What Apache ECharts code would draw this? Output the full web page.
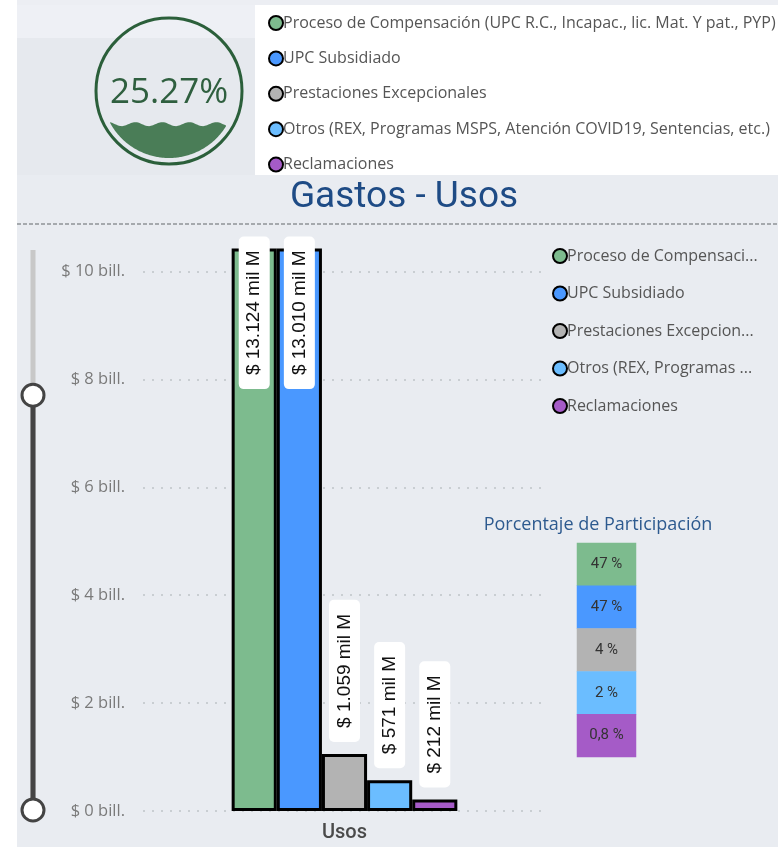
<!DOCTYPE html>
<html>
<head>
<meta charset="utf-8">
<script src="https://cdn.jsdelivr.net/npm/echarts@6/dist/echarts.min.js"></script>
<style>
    html, body { margin: 0; padding: 0; background: #fff; }
    #chart { width: 778px; height: 847px; }
</style>
</head>
<body>
<div id="chart"></div>
<script>
// datos
var categories = ['Usos'];
var seriesNames = [
    'Proceso de Compensación (UPC R.C., Incapac., lic. Mat. Y pat., PYP)',
    'UPC Subsidiado',
    'Prestaciones Excepcionales',
    'Otros (REX, Programas MSPS, Atención COVID19, Sentencias, etc.)',
    'Reclamaciones'
];
var usosValues = [13.124, 13.010, 1.059, 0.571, 0.212]; // billones
var participacion = [47, 47, 4, 2, 0.8];
var yTickValues = [0, 2, 4, 6, 8, 10];
var kpiValue = 25.27;

var colors = ['#7dbb8e', '#4a98ff', '#b3b3b3', '#6bbdff', '#a55bc7'];
var axisMax = 14;
var viewMax = 10.4;

function fmtMilM(v) {
    var n = Math.round(v * 1000).toString();
    return '$ ' + n.replace(/\B(?=(\d{3})+(?!\d))/g, '.') + ' mil M';
}

// figura del indicador (liquid fill)
function buildWave(cx, cy, r, pct) {
    var level = cy + r - 2 * r * pct / 100;
    var top = [], bottom = [];
    for (var x = cx - r; x <= cx + r; x += 1) {
        var yt = level + 2 * Math.sin(2 * Math.PI * (x - cx) / 27);
        var yb = cy + Math.sqrt(Math.max(0, r * r - (x - cx) * (x - cx)));
        if (yt < yb) {
            top.push([x, yt]);
            bottom.unshift([x, yb]);
        }
    }
    return top.concat(bottom);
}

var chart = echarts.init(document.getElementById('chart'));

var barSeries = seriesNames.map(function (name, i) {
    var inside = usosValues[i] > viewMax * 0.5;
    return {
        name: name,
        type: 'bar',
        data: [usosValues[i]],
        barGap: '0%',
        barCategoryGap: '44%',
        itemStyle: {
            color: colors[i],
            borderColor: '#000',
            borderWidth: 3
        },
        label: {
            show: true,
            rotate: 90,
            position: inside ? 'insideTop' : 'top',
            distance: inside ? -12 : 12,
            align: inside ? 'right' : 'left',
            verticalAlign: 'middle',
            formatter: function (p) { return fmtMilM(p.value); },
            color: '#111',
            fontSize: 19,
            fontFamily: 'Liberation Sans',
            backgroundColor: '#fff',
            borderRadius: 5,
            padding: [6, 14, 6, 14]
        }
    };
});

var heatData = participacion.map(function (v, i) {
    return {
        value: [0, i, v],
        itemStyle: { color: colors[i] }
    };
});

chart.setOption({
    animation: false,
    backgroundColor: '#fff',
    textStyle: { fontFamily: 'Open Sans' },
    title: [
        {
            text: 'Gastos - Usos',
            left: 399,
            top: 174,
            textAlign: 'center',
            textStyle: { fontSize: 37, fontWeight: 'normal', fontFamily: 'Roboto', color: '#1e4b85' }
        },
        {
            text: 'Porcentaje de Participación',
            left: 593,
            top: 511,
            textAlign: 'center',
            textStyle: { fontSize: 18, fontWeight: 'normal', fontFamily: 'Open Sans', color: '#2d5a8f' }
        }
    ],
    legend: [
        {
            data: seriesNames,
            orient: 'vertical',
            left: 263,
            top: 10,
            itemWidth: 14,
            itemHeight: 14,
            itemGap: 19.4,
            icon: 'circle',
            itemStyle: { borderColor: '#000', borderWidth: 2 },
            textStyle: { color: '#555', fontSize: 16, lineHeight: 16, fontFamily: 'Open Sans', padding: [0, 0, 0, -5] }
        },
        {
            data: seriesNames,
            orient: 'vertical',
            left: 547,
            top: 243,
            itemWidth: 14,
            itemHeight: 14,
            itemGap: 21.5,
            icon: 'circle',
            itemStyle: { borderColor: '#000', borderWidth: 2 },
            textStyle: {
                color: '#555', fontSize: 16, lineHeight: 16, fontFamily: 'Open Sans',
                width: 196, overflow: 'truncate', ellipsis: '...', padding: [0, 0, 0, -5]
            }
        }
    ],
    grid: [
        { left: 143, right: 232, top: 250, bottom: 36 },
        { left: 577, top: 543, width: 59, height: 214 }
    ],
    xAxis: [
        {
            type: 'category',
            gridIndex: 0,
            data: categories,
            axisLine: { show: false },
            axisTick: { show: false },
            axisLabel: { margin: 12, fontSize: 20, fontWeight: 500, fontFamily: 'Roboto', color: '#4a4a4a' }
        },
        {
            type: 'category',
            gridIndex: 1,
            data: [''],
            show: false
        }
    ],
    yAxis: [
        {
            type: 'value',
            gridIndex: 0,
            min: 0,
            max: axisMax,
            interval: 2,
            axisLine: { show: false },
            axisTick: { show: false },
            axisLabel: {
                margin: 18,
                fontSize: 16.5,
                color: '#7a7a7a',
                fontFamily: 'Open Sans',
                formatter: function (v) {
                    return yTickValues.indexOf(v) >= 0 ? '$ ' + v + ' bill.' : '';
                }
            },
            splitLine: {
                show: true,
                showMaxLine: false,
                lineStyle: { type: [2, 7], color: '#bfc3c8', width: 1.5 }
            }
        },
        {
            type: 'category',
            gridIndex: 1,
            data: seriesNames,
            inverse: true,
            show: false
        }
    ],
    dataZoom: [
        {
            type: 'slider',
            yAxisIndex: 0,
            orient: 'vertical',
            filterMode: 'none',
            startValue: 0,
            endValue: viewMax,
            left: 29,
            top: 250,
            bottom: 36,
            width: 5,
            showDetail: false,
            showDataShadow: false,
            brushSelect: false,
            moveHandleSize: 0,
            backgroundColor: '#c8c8c8',
            borderColor: 'transparent',
            borderRadius: 0,
            fillerColor: '#444',
            handleIcon: 'circle',
            handleSize: 22,
            handleStyle: { color: '#fff', borderColor: '#444', borderWidth: 3 },
            emphasis: { handleStyle: { color: '#fff', borderColor: '#444', borderWidth: 3 } },
            dataBackground: { lineStyle: { opacity: 0 }, areaStyle: { opacity: 0 } }
        }
    ],
    series: barSeries.concat([
        {
            name: 'Porcentaje de Participación',
            type: 'heatmap',
            xAxisIndex: 1,
            yAxisIndex: 1,
            data: heatData,
            label: {
                show: true,
                color: '#333',
                fontSize: 15,
                fontFamily: 'Roboto',
                formatter: function (p) { return String(p.value[2]).replace('.', ',') + ' %'; }
            }
        }
    ]),
    graphic: [
        { type: 'rect', z: -10, shape: { x: 17, y: 0, width: 761, height: 5 }, style: { fill: '#eceef3' } },
        { type: 'rect', z: -10, shape: { x: 17, y: 5, width: 238, height: 170 }, style: { fill: '#e6e9ee' } },
        { type: 'rect', z: -10, shape: { x: 17, y: 5, width: 238, height: 33 }, style: { fill: '#eef0f5' } },
        { type: 'rect', z: -10, shape: { x: 255, y: 5, width: 523, height: 170 }, style: { fill: '#ffffff' } },
        { type: 'rect', z: -10, shape: { x: 17, y: 175, width: 761, height: 672 }, style: { fill: '#e9ecf1' } },
        {
            type: 'line', z: -5,
            shape: { x1: 17, y1: 224, x2: 778, y2: 224 },
            style: { stroke: '#8f9297', lineWidth: 1.5, lineDash: [4, 2] }
        },
        {
            type: 'polygon', z: 1,
            shape: { points: buildWave(169, 91, 67, kpiValue) },
            style: { fill: '#4a7d57' }
        },
        {
            type: 'circle', z: 1,
            shape: { cx: 169, cy: 91, r: 73 },
            style: { fill: 'none', stroke: '#2b5f3a', lineWidth: 3 }
        },
        {
            type: 'text', z: 2,
            x: 169, y: 93,
            style: {
                text: kpiValue.toFixed(2) + '%',
                fill: '#2f5f3f',
                font: '35px "Open Sans"',
                textAlign: 'center',
                textVerticalAlign: 'middle'
            }
        }
    ]
});
</script>
</body>
</html>
